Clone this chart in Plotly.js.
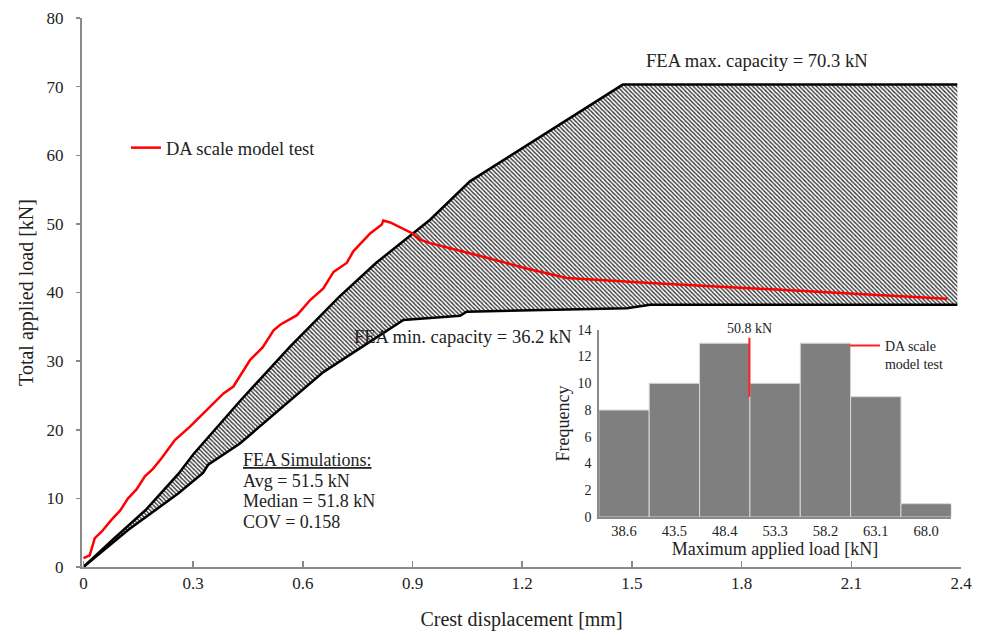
<!DOCTYPE html>
<html><head><meta charset="utf-8">
<script src="https://cdn.plot.ly/plotly-3.0.1.min.js"></script>
<style>html,body{margin:0;padding:0;background:#fff}</style>
</head><body><div id="chart" style="width:982px;height:634px"></div>
<script>
// DA scale model test curve (crest displacement [mm], total applied load [kN])
const testX = [0, 0.017, 0.031, 0.049, 0.077, 0.10, 0.122, 0.145, 0.168, 0.19, 0.213, 0.25, 0.292, 0.337, 0.383, 0.41, 0.456, 0.49, 0.52, 0.538, 0.584, 0.62, 0.656, 0.684, 0.72, 0.738, 0.784, 0.816, 0.82, 0.839, 0.90, 0.92, 0.948, 1.093, 1.212, 1.322, 1.413, 1.55, 2.362];
const testY = [1.3, 1.7, 4.2, 5.1, 6.9, 8.2, 10.0, 11.3, 13.2, 14.3, 15.8, 18.5, 20.5, 22.9, 25.3, 26.3, 30.2, 32.0, 34.5, 35.3, 36.7, 38.9, 40.6, 43.0, 44.3, 46.0, 48.6, 49.9, 50.5, 50.2, 48.6, 47.7, 47.2, 45.2, 43.5, 42.1, 41.8, 41.4, 39.1];
// FEA envelope: maximum capacity boundary
const upperX = [0, 0.08, 0.17, 0.26, 0.30, 0.43, 0.565, 0.70, 0.80, 0.948, 1.057, 1.475, 2.39];
const upperY = [0, 4.0, 8.3, 13.6, 16.4, 24.3, 32.1, 39.4, 44.3, 50.6, 56.2, 70.3, 70.3];
// FEA envelope: minimum capacity boundary
const lowerX = [0, 0.122, 0.259, 0.327, 0.341, 0.428, 0.656, 0.875, 0.948, 1.03, 1.048, 1.486, 1.55, 2.39];
const lowerY = [0, 5.4, 10.7, 13.7, 14.9, 18.0, 28.4, 36.0, 36.3, 36.6, 37.2, 37.7, 38.2, 38.2];
// Inset histogram of maximum applied load
const binCenters = [38.6, 43.5, 48.4, 53.3, 58.2, 63.1, 68.0];
const binLabels = ['38.6', '43.5', '48.4', '53.3', '58.2', '63.1', '68.0'];
const binCounts = [8, 10, 13, 10, 13, 9, 1];
const binWidth = 4.9;
const testMaxX = [50.8, 50.8];
const testMaxY = [9.0, 13.4];
// Tick values
const xTicks = [0, 0.3, 0.6, 0.9, 1.2, 1.5, 1.8, 2.1, 2.4];
const xTickText = ['0', '0.3', '0.6', '0.9', '1.2', '1.5', '1.8', '2.1', '2.4'];
const yTicks = [0, 10, 20, 30, 40, 50, 60, 70, 80];
const histYTicks = [0, 2, 4, 6, 8, 10, 12, 14];
// Text block
const simLines = ['<u>FEA Simulations:</u>', 'Avg = 51.5 kN', 'Median = 51.8 kN', 'COV = 0.158'];

const FONT = 'Liberation Serif, Times New Roman, serif';
const TXT = '#222';
const AX = '#8a8a8a';

const traces = [
  {x: lowerX, y: lowerY, type: 'scatter', mode: 'lines', line: {color: '#000', width: 2.5}, showlegend: false, hoverinfo: 'skip'},
  {x: upperX, y: upperY, type: 'scatter', mode: 'lines', line: {color: '#000', width: 2.5}, fill: 'tonexty',
   fillcolor: 'rgba(0,0,0,0)',
   fillpattern: {shape: '\\', fgcolor: '#333333', bgcolor: '#ffffff', size: 3, solidity: 0.45},
   showlegend: false, hoverinfo: 'skip'},
  {x: testX, y: testY, type: 'scatter', mode: 'lines', name: 'DA scale model test', line: {color: '#ff0000', width: 2.5}, legend: 'legend'},
  {x: binCenters, y: binCounts, type: 'bar', width: binWidth, xaxis: 'x2', yaxis: 'y2',
   marker: {color: '#7f7f7f', line: {color: '#d8d8d8', width: 1}}, showlegend: false},
  {x: testMaxX, y: testMaxY, type: 'scatter', mode: 'lines', xaxis: 'x2', yaxis: 'y2', name: 'DA scale<br>model test',
   line: {color: '#ff2020', width: 2}, legend: 'legend2'}
];

const annotations = [
  {xref: 'paper', yref: 'paper', x: 0.768, y: 0.923, xanchor: 'center', yanchor: 'middle', showarrow: false,
   text: 'FEA max. capacity = 70.3 kN', font: {family: FONT, size: 18.6, color: TXT}},
  {xref: 'paper', yref: 'paper', x: 0.4334, y: 0.419, xanchor: 'center', yanchor: 'middle', showarrow: false,
   text: 'FEA min. capacity = 36.2 kN', font: {family: FONT, size: 18.5, color: TXT}},
  {xref: 'x2', yref: 'y2', x: 50.8, y: 13.4, xanchor: 'center', yanchor: 'bottom', showarrow: false,
   text: '50.8 kN', font: {family: FONT, size: 14, color: TXT}}
];
const simTop = [460, 480.5, 501, 521.5];
simLines.forEach((t, i) => annotations.push({
  xref: 'paper', yref: 'paper', x: (241 - 82) / 879, y: (567 - simTop[i]) / 549,
  xanchor: 'left', yanchor: 'middle', align: 'left', showarrow: false,
  text: t, font: {family: FONT, size: 18, color: TXT}
}));

const layout = {
  width: 982, height: 634,
  margin: {l: 82, r: 21, t: 18, b: 67},
  paper_bgcolor: '#fff', plot_bgcolor: '#fff',
  font: {family: FONT, color: TXT, size: 17},
  showlegend: true,
  xaxis: {
    range: [-0.004, 2.4], tickvals: xTicks, ticktext: xTickText,
    showline: true, linecolor: AX, linewidth: 2, zeroline: false, showgrid: false,
    ticks: 'inside', ticklen: 6, tickcolor: AX, tickwidth: 1.5,
    tickfont: {family: FONT, size: 17, color: TXT},
    title: {text: 'Crest displacement [mm]', font: {family: FONT, size: 20, color: TXT}, standoff: 20},
    automargin: false, fixedrange: true
  },
  yaxis: {
    range: [0, 80], tickvals: yTicks,
    showline: true, linecolor: AX, linewidth: 2, zeroline: false, showgrid: false,
    ticks: 'outside', ticklen: 4, tickcolor: AX, tickwidth: 1.5,
    ticklabelstandoff: 9,
    tickfont: {family: FONT, size: 17, color: TXT},
    title: {text: 'Total applied load [kN]', font: {family: FONT, size: 20, color: TXT}, standoff: 8},
    automargin: false, fixedrange: true
  },
  xaxis2: {
    domain: [0.588, 0.989], anchor: 'y2', range: [36.15, 70.45],
    tickvals: binCenters, ticktext: binLabels,
    showline: true, linecolor: AX, linewidth: 1.5, zeroline: false, showgrid: false, ticks: '',
    tickfont: {family: FONT, size: 14.5, color: TXT},
    title: {text: 'Maximum applied load [kN]', font: {family: FONT, size: 18, color: TXT}, standoff: 1},
    automargin: false, fixedrange: true
  },
  yaxis2: {
    domain: [0.091, 0.432], anchor: 'x2', range: [0, 14], tickvals: histYTicks,
    showline: true, linecolor: AX, linewidth: 1.5, zeroline: false, showgrid: false, ticks: '',
    ticklabelstandoff: 3,
    tickfont: {family: FONT, size: 14, color: TXT},
    title: {text: 'Frequency', font: {family: FONT, size: 18, color: TXT}, standoff: 3},
    automargin: false, fixedrange: true
  },
  legend: {
    x: 0.05, y: 0.763, xanchor: 'left', yanchor: 'middle',
    bgcolor: 'rgba(0,0,0,0)', borderwidth: 0,
    font: {family: FONT, size: 18.5, color: TXT}, itemwidth: 30, tracegroupgap: 0
  },
  legend2: {
    x: 0.868, y: 0.432, xanchor: 'left', yanchor: 'top', valign: 'top',
    bgcolor: 'rgba(0,0,0,0)', borderwidth: 0,
    font: {family: FONT, size: 14, color: TXT}, itemwidth: 30
  },
  annotations: annotations
};

Plotly.newPlot('chart', traces, layout, {staticPlot: true, displayModeBar: false});
</script></body></html>
